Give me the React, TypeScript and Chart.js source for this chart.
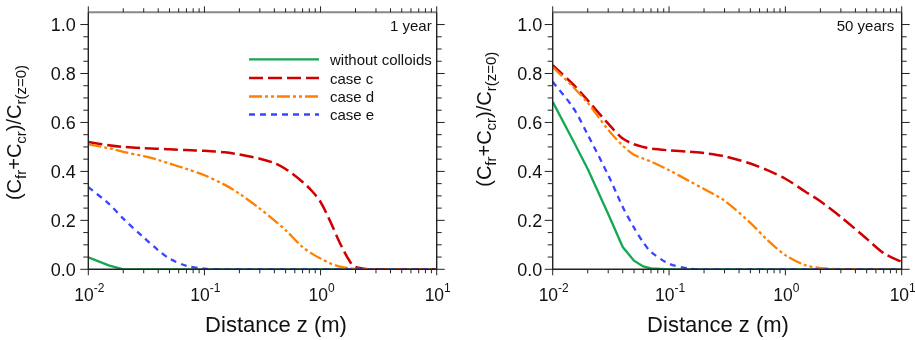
import { useEffect, useRef } from "react";
import { Chart, registerables } from "chart.js";

Chart.register(...registerables);

// ---------- data ----------
const seriesNames = ["without colloids", "case c", "case d", "case e"];
const panelLabels = ["1 year", "50 years"];
const xTickExponents = [-2, -1, 0, 1];
const yTickValues = [0, 0.2, 0.4, 0.6, 0.8, 1.0];

// 1 year
const zOneYear = [0.01, 0.015, 0.02, 0.03, 0.04, 0.05, 0.07, 0.1, 0.15, 0.2, 0.3, 0.4, 0.5, 0.7, 0.85, 1.0, 1.2, 1.5, 1.8, 2.0, 2.5, 3, 5, 10];
const withoutColloids1 = [0.049, 0.016, 0, 0, 0, 0, 0, 0, 0, 0, 0, 0, 0, 0, 0, 0, 0, 0, 0, 0, 0, 0, 0, 0];
const caseC1 = [0.52, 0.507, 0.5, 0.495, 0.493, 0.49, 0.487, 0.484, 0.478, 0.469, 0.452, 0.434, 0.41, 0.357, 0.318, 0.275, 0.2, 0.098, 0.03, 0.01, 0.001, 0, 0, 0];
const caseD1 = [0.51, 0.495, 0.48, 0.462, 0.447, 0.432, 0.41, 0.384, 0.345, 0.309, 0.248, 0.2, 0.16, 0.091, 0.063, 0.044, 0.025, 0.01, 0.004, 0.002, 0, 0, 0, 0];
const caseE1 = [0.336, 0.268, 0.207, 0.13, 0.078, 0.044, 0.014, 0.003, 0, 0, 0, 0, 0, 0, 0, 0, 0, 0, 0, 0, 0, 0, 0, 0];

// 50 years
const zFiftyYears = [0.01, 0.015, 0.02, 0.03, 0.04, 0.05, 0.06, 0.07, 0.1, 0.15, 0.2, 0.3, 0.5, 0.7, 1.0, 1.5, 2, 3, 5, 7, 10];
const withoutColloids50 = [0.684, 0.525, 0.41, 0.226, 0.091, 0.035, 0.012, 0.004, 0, 0, 0, 0, 0, 0, 0, 0, 0, 0, 0, 0, 0];
const caseC50 = [0.834, 0.755, 0.69, 0.595, 0.534, 0.511, 0.5, 0.493, 0.486, 0.48, 0.475, 0.462, 0.432, 0.405, 0.37, 0.316, 0.278, 0.214, 0.125, 0.066, 0.03];
const caseD50 = [0.826, 0.745, 0.68, 0.57, 0.505, 0.468, 0.452, 0.44, 0.405, 0.36, 0.328, 0.28, 0.19, 0.12, 0.058, 0.016, 0.005, 0.001, 0, 0, 0];
const caseE50 = [0.766, 0.66, 0.55, 0.385, 0.255, 0.17, 0.11, 0.071, 0.023, 0.003, 0, 0, 0, 0, 0, 0, 0, 0, 0, 0, 0];

// ---------- styles ----------
const FONT = '"Liberation Sans", Arial, Helvetica, sans-serif';
const COLORS = ["#14a850", "#d00000", "#ff8000", "#3a45ff"];
const DASHES: number[][] = [[], [14, 5], [13, 3, 3, 3, 3, 3], [6, 5]];
const WIDTHS = [2.3, 2.5, 2.3, 2.3];
const AXIS_COLOR = "#222";

type Part = { t: string; sub?: boolean; sup?: boolean };

function drawRich(ctx: CanvasRenderingContext2D, parts: Part[], x: number, y: number, main: number, small: number, align: "left" | "center") {
  const fontOf = (p: Part) => `${p.sub || p.sup ? small : main}px ${FONT}`;
  let total = 0;
  for (const p of parts) {
    ctx.font = fontOf(p);
    total += ctx.measureText(p.t).width;
  }
  let cx = align === "center" ? x - total / 2 : x;
  ctx.textAlign = "left";
  ctx.textBaseline = "alphabetic";
  for (const p of parts) {
    ctx.font = fontOf(p);
    const dy = p.sub ? main * 0.27 : p.sup ? -main * 0.52 : 0;
    ctx.fillText(p.t, cx, y + dy);
    cx += ctx.measureText(p.t).width;
  }
}

const yLabelParts: Part[] = [
  { t: "(C" },
  { t: "fr", sub: true },
  { t: "+C" },
  { t: "cr", sub: true },
  { t: ")/C" },
  { t: "r(z=0)", sub: true },
];

interface PanelOpts {
  z: number[];
  series: number[][];
  label: string;
  legend: boolean;
  yLabelX: number;
  yLabelY: number;
  xLabelX: number;
  tickGap: number;
  labelRightInset: number;
}

function makePlugin(o: PanelOpts) {
  return {
    id: "frameAndText",
    afterDatasetsDraw(chart: any) {
      const ctx: CanvasRenderingContext2D = chart.ctx;
      const xs = chart.scales.x;
      const ys = chart.scales.y;
      const { left, right, top, bottom } = chart.chartArea;
      ctx.save();
      // frame
      ctx.lineCap = "butt";
      ctx.setLineDash([]);
      ctx.strokeStyle = "#888";
      ctx.lineWidth = 2;
      ctx.beginPath();
      ctx.moveTo(left, top);
      ctx.lineTo(right, top);
      ctx.stroke();
      ctx.strokeStyle = AXIS_COLOR;
      ctx.lineWidth = 1.4;
      ctx.beginPath();
      ctx.moveTo(left, top);
      ctx.lineTo(left, bottom);
      ctx.lineTo(right, bottom);
      ctx.lineTo(right, top);
      ctx.stroke();

      // y ticks
      ctx.lineWidth = 1;
      for (let k = 0; k <= 20; k++) {
        const v = k * 0.05;
        const py = ys.getPixelForValue(v);
        const len = k % 4 === 0 ? 8 : 5;
        ctx.beginPath();
        ctx.moveTo(left - len, py);
        ctx.lineTo(left, py);
        ctx.moveTo(right, py);
        ctx.lineTo(right + len, py);
        ctx.stroke();
      }
      // x ticks
      for (let e = -2; e <= 1; e++) {
        for (let m = 1; m <= 9; m++) {
          const v = m * Math.pow(10, e);
          if (v > 10.0001) continue;
          const px = xs.getPixelForValue(v);
          const len = m === 1 ? 6 : 4;
          ctx.beginPath();
          ctx.moveTo(px, bottom);
          ctx.lineTo(px, bottom + len);
          ctx.moveTo(px, top);
          ctx.lineTo(px, top - len);
          ctx.stroke();
        }
      }

      ctx.fillStyle = "#111";
      // y tick labels
      ctx.font = `18px ${FONT}`;
      ctx.textAlign = "right";
      ctx.textBaseline = "alphabetic";
      for (const v of yTickValues) {
        const py = ys.getPixelForValue(v);
        ctx.fillText(v.toFixed(1), left - o.tickGap, py + 6.2);
      }
      // x tick labels
      for (const e of xTickExponents) {
        const px = xs.getPixelForValue(Math.pow(10, e));
        drawRich(ctx, [{ t: "10" }, { t: String(e), sup: true }], px + 1, bottom + 31.5, 17.5, 12, "center");
      }
      // axis titles
      ctx.font = `22px ${FONT}`;
      ctx.textAlign = "center";
      ctx.fillText("Distance z (m)", o.xLabelX, 331.5);
      ctx.save();
      ctx.translate(o.yLabelX, o.yLabelY);
      ctx.rotate(-Math.PI / 2);
      drawRich(ctx, yLabelParts, 0, 0, 20, 15, "center");
      ctx.restore();

      // panel label
      ctx.font = `15px ${FONT}`;
      ctx.textAlign = "right";
      ctx.fillText(o.label, right - o.labelRightInset, top + 18.5);

      // legend
      if (o.legend) {
        const rows = [59.3, 78, 96.5, 114.5];
        chart.data.datasets.forEach((ds: any, i: number) => {
          const y = rows[i];
          ctx.strokeStyle = ds.borderColor;
          ctx.lineWidth = ds.borderWidth;
          ctx.setLineDash(ds.borderDash || []);
          ctx.beginPath();
          ctx.moveTo(249, y);
          ctx.lineTo(319, y);
          ctx.stroke();
          ctx.setLineDash([]);
          ctx.fillStyle = "#111";
          ctx.font = `15px ${FONT}`;
          ctx.textAlign = "left";
          ctx.fillText(ds.label, 330, y + 5.5);
        });
      }
      ctx.restore();
    },
  };
}

function Panel(props: { width: number; padding: { left: number; right: number; top: number; bottom: number }; opts: PanelOpts }) {
  const ref = useRef<HTMLCanvasElement | null>(null);
  useEffect(() => {
    if (!ref.current) return;
    const o = props.opts;
    const order = [3, 2, 1, 0];
    const chart = new Chart(ref.current, {
      type: "line",
      data: {
        datasets: o.series.map((vals, i) => ({
          label: seriesNames[i],
          data: o.z.map((x, j) => ({ x, y: vals[j] })),
          borderColor: COLORS[i],
          borderDash: DASHES[i],
          borderWidth: WIDTHS[i],
          pointRadius: 0,
          fill: false,
          cubicInterpolationMode: "default",
          tension: i === 0 ? 0 : 0.3,
          order: order[i],
        })),
      },
      options: {
        responsive: false,
        animation: false,
        events: [],
        layout: { padding: props.padding },
        plugins: { legend: { display: false }, tooltip: { enabled: false } },
        scales: {
          x: { type: "logarithmic", min: 0.01, max: 10, display: false },
          y: { type: "linear", min: 0, max: 1.05, display: false },
        },
      } as any,
      plugins: [makePlugin(o)],
    } as any);
    return () => chart.destroy();
  }, []);
  return <canvas ref={ref} width={props.width} height={340} style={{ display: "block" }} />;
}

export default function App() {
  return (
    <div style={{ position: "absolute", left: 0, top: 0, width: 915, height: 340, display: "flex", background: "#fff" }}>
      <Panel
        width={457}
        padding={{ left: 88.3, right: 20.3, top: 12.3, bottom: 70.7 }}
        opts={{
          z: zOneYear,
          series: [withoutColloids1, caseC1, caseD1, caseE1],
          label: panelLabels[0],
          legend: true,
          yLabelX: 21,
          yLabelY: 132.5,
          xLabelX: 276,
          tickGap: 12.6,
          labelRightInset: 5,
        }}
      />
      <Panel
        width={458}
        padding={{ left: 95.7, right: 13.3, top: 12.3, bottom: 70.7 }}
        opts={{
          z: zFiftyYears,
          series: [withoutColloids50, caseC50, caseD50, caseE50],
          label: panelLabels[1],
          legend: false,
          yLabelX: 34,
          yLabelY: 119.2,
          xLabelX: 261,
          tickGap: 10.4,
          labelRightInset: 7.4,
        }}
      />
    </div>
  );
}
